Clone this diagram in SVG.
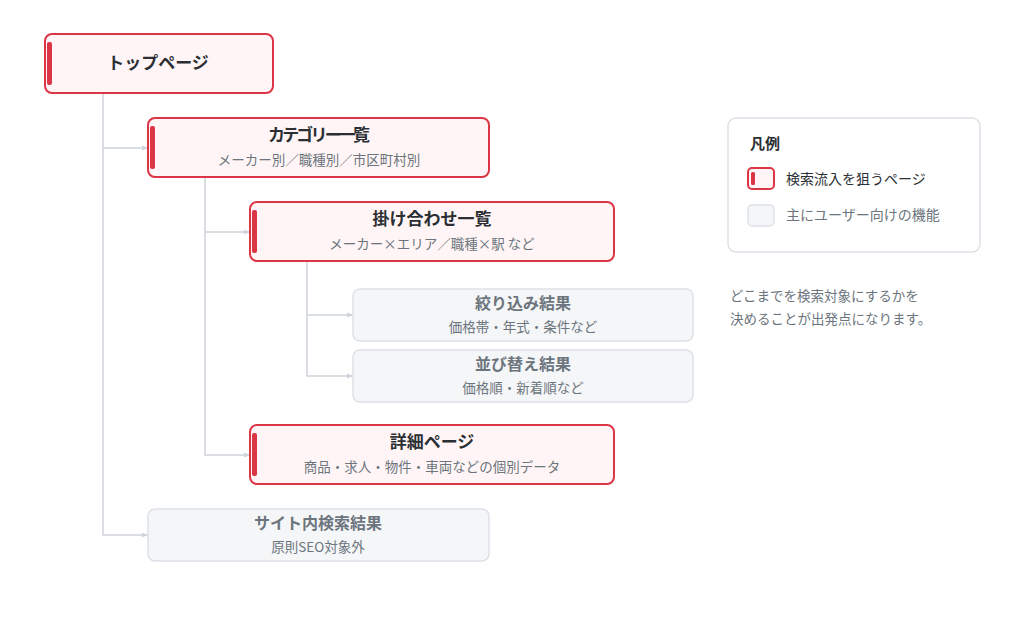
<svg xmlns="http://www.w3.org/2000/svg" width="1024" height="637" viewBox="0 0 1024 637">
<defs>
<style>
.txt{font-family:"Noto Sans CJK JP","Noto Sans",sans-serif}
.key rect.box{fill:#fff5f6;stroke:#dc3545;stroke-width:2}
.key rect.bar{fill:#dc3545}
.sub rect.box{fill:#f5f6f8;stroke:#dde1e6;stroke-width:1.5}
.t{font-size:17px;font-weight:700;text-anchor:middle}
.key .t{fill:#2b2f33}
.sub .t{fill:#6c757d;font-size:16px}
.s{font-size:13.5px;fill:#6c757d;text-anchor:middle}
.conn path{fill:none;stroke:#ced4da;stroke-width:1.5}
</style>
<marker id="ah" viewBox="0 0 6 6" refX="6" refY="3" markerWidth="6" markerHeight="6" markerUnits="userSpaceOnUse" orient="auto">
<path d="M0,0.5 L6,3 L0,5.5 Z" fill="#ced4da"/>
</marker>
</defs>
<rect width="1024" height="637" fill="#ffffff"/>
<g class="conn" id="connectors">
<path d="M103,93 V535 H148" marker-end="url(#ah)"/>
<path d="M103,148 H148" marker-end="url(#ah)"/>
<path d="M205,177 V455 H250" marker-end="url(#ah)"/>
<path d="M205,232 H250" marker-end="url(#ah)"/>
<path d="M307,261 V376 H353" marker-end="url(#ah)"/>
<path d="M307,315 H353" marker-end="url(#ah)"/>
</g>
<g id="top" class="key txt">
<rect class="box" x="45" y="34" width="228" height="59" rx="7"/>
<rect class="bar" x="47" y="42" width="5" height="43" rx="2"/>
<text class="t" x="158" y="69">トップページ</text>
</g>
<g id="category" class="key txt">
<rect class="box" x="148" y="118" width="341" height="59" rx="7"/>
<rect class="bar" x="150" y="126" width="5" height="43" rx="2"/>
<text class="t" x="319" y="141" textLength="102" lengthAdjust="spacing">カテゴリー一覧</text>
<text class="s" x="319" y="165">メーカー別／職種別／市区町村別</text>
</g>
<g id="combo" class="key txt">
<rect class="box" x="250" y="202" width="364" height="59" rx="7"/>
<rect class="bar" x="252" y="210" width="5" height="43" rx="2"/>
<text class="t" x="432" y="225">掛け合わせ一覧</text>
<text class="s" x="432" y="249">メーカー×エリア／職種×駅 など</text>
</g>
<g id="filter" class="sub txt">
<rect class="box" x="353" y="289" width="340" height="52" rx="7"/>
<text class="t" x="523" y="309">絞り込み結果</text>
<text class="s" x="523" y="332">価格帯・年式・条件など</text>
</g>
<g id="sort" class="sub txt">
<rect class="box" x="353" y="350" width="340" height="52" rx="7"/>
<text class="t" x="523" y="370">並び替え結果</text>
<text class="s" x="523" y="393">価格順・新着順など</text>
</g>
<g id="detail" class="key txt">
<rect class="box" x="250" y="425" width="364" height="59" rx="7"/>
<rect class="bar" x="252" y="433" width="5" height="43" rx="2"/>
<text class="t" x="432" y="448">詳細ページ</text>
<text class="s" x="432" y="472">商品・求人・物件・車両などの個別データ</text>
</g>
<g id="sitesearch" class="sub txt">
<rect class="box" x="148" y="509" width="341" height="52" rx="7"/>
<text class="t" x="318" y="529">サイト内検索結果</text>
<text class="s" x="318" y="552">原則SEO対象外</text>
</g>
<g id="legend" class="txt">
<rect x="728" y="118" width="252" height="134" rx="8" fill="#ffffff" stroke="#dde1e6" stroke-width="1.5"/>
<text x="750" y="149" font-size="15" font-weight="700" fill="#2b2f33">凡例</text>
<rect x="748" y="168" width="26" height="21" rx="4" fill="#fff5f6" stroke="#dc3545" stroke-width="2"/>
<rect x="751" y="172" width="4" height="13" rx="1.5" fill="#dc3545"/>
<text x="786" y="184" font-size="14" fill="#2b2f33">検索流入を狙うページ</text>
<rect x="748" y="205" width="26" height="21" rx="4" fill="#f5f6f8" stroke="#dde1e6" stroke-width="1.5"/>
<text x="786" y="220" font-size="14" fill="#6c757d">主にユーザー向けの機能</text>
</g>
<g id="note" class="txt" font-size="13.5" fill="#6c757d">
<text x="730" y="301">どこまでを検索対象にするかを</text>
<text x="730" y="324">決めることが出発点になります。</text>
</g>
</svg>
